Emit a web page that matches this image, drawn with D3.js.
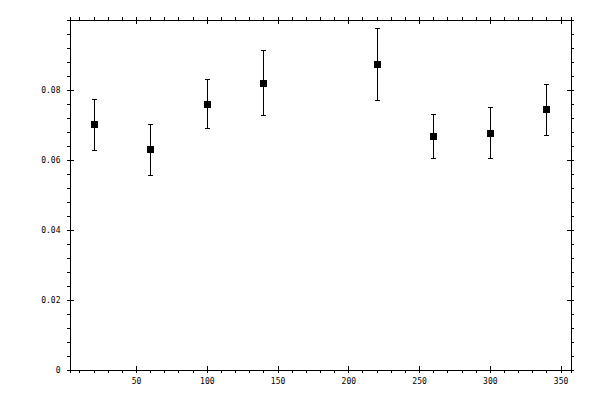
<!DOCTYPE html>
<html>
<head>
<meta charset="utf-8">
<script src="https://cdn.jsdelivr.net/npm/d3@7"></script>
<style>
	body { margin:0; background:#fff; }
	text { font-family:"DejaVu Sans Mono", monospace; font-size:8px; fill:#000; }
	.domain, .tick line { stroke:#000; stroke-width:1; shape-rendering:crispEdges; }
</style>
</head>
<body>
<svg id="chart" width="600" height="400"></svg>
<script>
var xValues = [20, 60, 100, 140, 220, 260, 300, 340];
var yValues = [0.0701, 0.0629, 0.0760, 0.0819, 0.0873, 0.0667, 0.0677, 0.0744];
var yErrors = [0.0073, 0.0072, 0.0069, 0.0093, 0.0104, 0.0064, 0.0074, 0.0073];

var xMajor = [50, 100, 150, 200, 250, 300, 350];
var yMajor = [0, 0.02, 0.04, 0.06, 0.08];

var svg = d3.select("#chart");
var plotLeft = 69.5, plotRight = 570.5, plotTop = 19.5, plotBottom = 369.5;

var x = d3.scaleLinear().domain([3, 357]).range([plotLeft, plotRight]);
var y = d3.scaleLinear().domain([0, 0.1]).range([plotBottom, plotTop]);

// minor ticks every 10 on x, every 0.004 on y
var xMinor = d3.range(10, 360, 10).filter(function(d){ return d % 50 !== 0; });
var yMinor = d3.range(1, 25).map(function(i){ return i * 0.004; })
	.filter(function(d){ return Math.abs(d / 0.02 - Math.round(d / 0.02)) > 1e-6; });

function drawAxis(axisFn, scale, pos, major, minor, labels, inward){
	var g = svg.append("g").attr("transform", pos);
	g.call(axisFn(scale).tickValues(minor).tickSize(3).tickFormat(""));

	var m = svg.append("g").attr("transform", pos);
	var ax = axisFn(scale).tickValues(major).tickSize(3).tickPadding(labels ? 6 : 0);
	ax.tickFormat(labels ? labels : "");
	m.call(ax);
	m.select(".domain").remove();
	// major ticks cross the axis line
	m.selectAll(".tick line").each(function(){
		var l = d3.select(this);
		if (l.attr("y2") !== null && +l.attr("y2") !== 0) l.attr("y1", inward);
		if (l.attr("x2") !== null && +l.attr("x2") !== 0) l.attr("x1", inward);
	});
	return m;
}

var fmtY = function(d){ return d === 0 ? "0" : d3.format(".2f")(d); };

drawAxis(d3.axisBottom, x, "translate(0," + plotBottom + ")", xMajor, xMinor, d3.format("d"), -4);
drawAxis(d3.axisTop, x, "translate(0," + plotTop + ")", xMajor, xMinor, null, 4);
drawAxis(d3.axisLeft, y, "translate(" + plotLeft + ",0)", yMajor, yMinor, fmtY, 4);
drawAxis(d3.axisRight, y, "translate(" + plotRight + ",0)", yMajor, yMinor, null, -4);

svg.selectAll("text").attr("font-family", "DejaVu Sans Mono").attr("font-size", 8);

// error bars
var pts = svg.append("g").selectAll("g")
	.data(xValues.map(function(d, i){ return {x:d, y:yValues[i], e:yErrors[i]}; }))
	.enter().append("g");

pts.append("line")
	.attr("x1", function(d){ return Math.round(x(d.x)) + 0.5; })
	.attr("x2", function(d){ return Math.round(x(d.x)) + 0.5; })
	.attr("y1", function(d){ return y(d.y + d.e); })
	.attr("y2", function(d){ return y(d.y - d.e); })
	.attr("stroke", "#000").attr("shape-rendering", "crispEdges");

[1, -1].forEach(function(s){
	pts.append("line")
		.attr("x1", function(d){ return Math.round(x(d.x)) - 2; })
		.attr("x2", function(d){ return Math.round(x(d.x)) + 3; })
		.attr("y1", function(d){ return Math.round(y(d.y + s * d.e)) + 0.5; })
		.attr("y2", function(d){ return Math.round(y(d.y + s * d.e)) + 0.5; })
		.attr("stroke", "#000").attr("shape-rendering", "crispEdges");
});

// square markers
pts.append("rect")
	.attr("x", function(d){ return Math.round(x(d.x)) - 3; })
	.attr("y", function(d){ return Math.round(y(d.y)) - 3; })
	.attr("width", 7).attr("height", 7)
	.attr("fill", "#000").attr("shape-rendering", "crispEdges");
</script>
</body>
</html>
